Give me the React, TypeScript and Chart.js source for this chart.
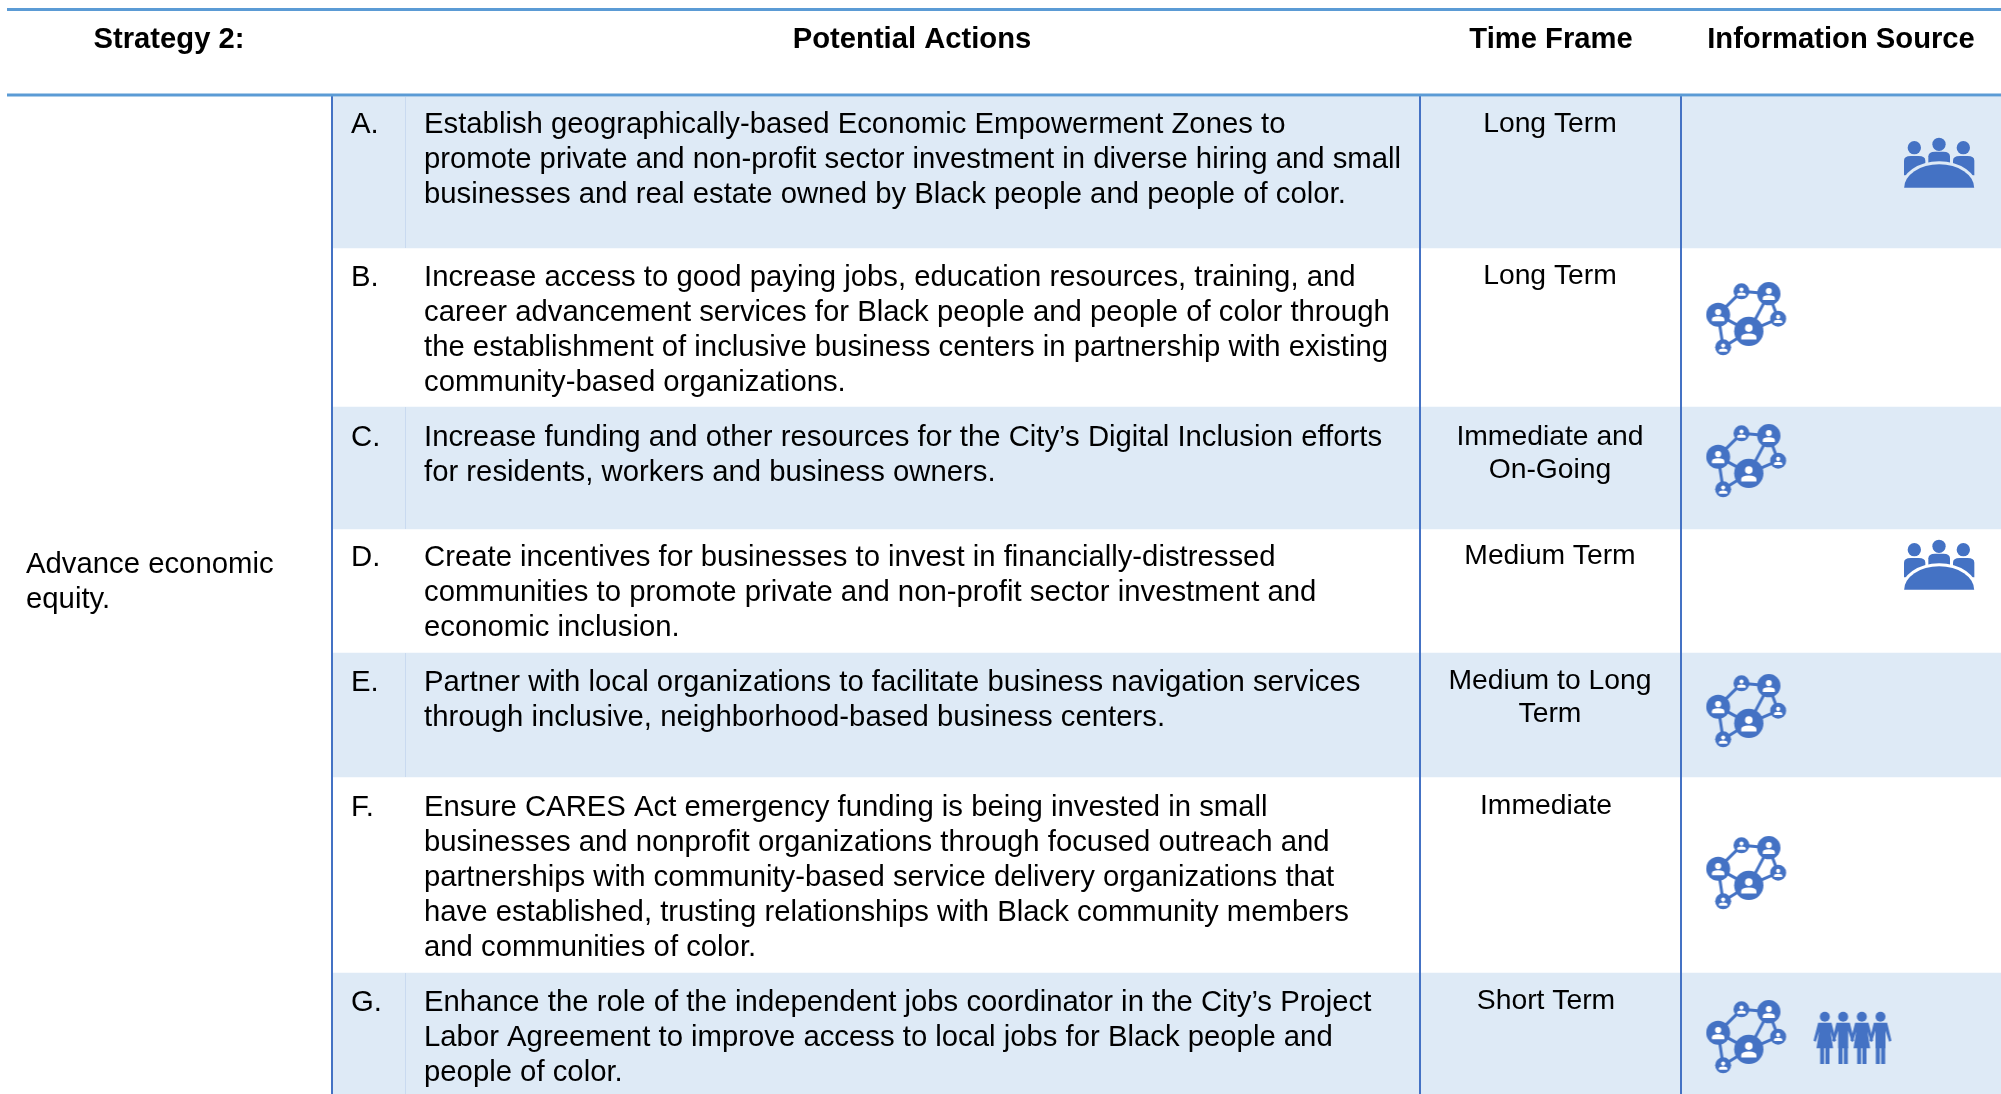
import React, { useEffect, useRef } from "react";
import { Chart, registerables } from "chart.js";

Chart.register(...registerables);

const W = 2001;
const H = 1094;

// ---------- content ----------
const headers = ["Strategy 2:", "Potential Actions", "Time Frame", "Information Source"];
const strategyLines = ["Advance economic", "equity."];
const rowLetters = ["A.", "B.", "C.", "D.", "E.", "F.", "G."];
const actionLines = [
  ["Establish geographically-based Economic Empowerment Zones to", "promote private and non-profit sector investment in diverse hiring and small", "businesses and real estate owned by Black people and people of color."],
  ["Increase access to good paying jobs, education resources, training, and", "career advancement services for Black people and people of color through", "the establishment of inclusive business centers in partnership with existing", "community-based organizations."],
  ["Increase funding and other resources for the City\u2019s Digital Inclusion efforts", "for residents, workers and business owners."],
  ["Create incentives for businesses to invest in financially-distressed", "communities to promote private and non-profit sector investment and", "economic inclusion."],
  ["Partner with local organizations to facilitate business navigation services", "through inclusive, neighborhood-based business centers."],
  ["Ensure CARES Act emergency funding is being invested in small", "businesses and nonprofit organizations through focused outreach and", "partnerships with community-based service delivery organizations that", "have established, trusting relationships with Black community members", "and communities of color."],
  ["Enhance the role of the independent jobs coordinator in the City\u2019s Project", "Labor Agreement to improve access to local jobs for Black people and", "people of color."],
];
const timeFrames = [
  ["Long Term"],
  ["Long Term"],
  ["Immediate and", "On-Going"],
  ["Medium Term"],
  ["Medium to Long", "Term"],
  ["Immediate"],
  ["Short Term"],
];

// ---------- table geometry (in the axes' units) ----------
const rowEdges = [97, 248, 407, 529, 653, 777, 973, 1094];
const shadedRows = [0, 2, 4, 6];
const rowBaselines = [133.3, 286, 445.5, 566, 691, 815.5, 1011];
const timeBaselines = [132, 284, 445, 564, 689, 814, 1009];
const timeCenters = [1550, 1550, 1550, 1550, 1550, 1546, 1546];
const networkCenters = [[1746.5, 319], [1746.5, 461], [1746.5, 711], [1746.5, 873], [1746.5, 1037]];
const crowdCenters = [[1939, 163], [1939, 565]];
const peopleCenters = [[1853.5, 1038]];
const headerRules = [9.5, 95];
const columnRules = [332, 1420, 1681];
const faintRule = 405.5;

const BLUE = "#4472C4";
const SHADE = "#DEEAF6";
const FONT = '"Liberation Sans", Arial, sans-serif';

// ---------- icons ----------
function iconCanvas(w: number, h: number, draw: (c: CanvasRenderingContext2D) => void) {
  const cv = document.createElement("canvas");
  cv.width = w;
  cv.height = h;
  const c = cv.getContext("2d")!;
  c.scale(1 / 3, 1 / 3);
  c.fillStyle = BLUE;
  c.strokeStyle = BLUE;
  draw(c);
  return cv;
}

function makeNetwork() {
  return iconCanvas(82, 74, (c) => {
    c.translate(-77, -37);
    const n = [[115, 135, 36], [185, 65, 24], [267, 72, 35], [295, 147, 24], [207, 185, 44], [130, 233, 24]];
    const links = [[0, 1], [1, 2], [2, 4], [2, 3], [3, 4], [4, 0], [0, 5], [5, 4]];
    c.lineWidth = 9;
    links.forEach(([a, b]) => {
      c.beginPath();
      c.moveTo(n[a][0], n[a][1]);
      c.lineTo(n[b][0], n[b][1]);
      c.stroke();
    });
    n.forEach(([x, y, r]) => {
      c.fillStyle = BLUE;
      c.beginPath();
      c.arc(x, y, r, 0, Math.PI * 2);
      c.fill();
      c.fillStyle = "#fff";
      c.beginPath();
      c.arc(x, y - r * 0.22, r * 0.26, 0, Math.PI * 2);
      c.fill();
      c.beginPath();
      c.moveTo(x - r * 0.52, y + r * 0.55);
      c.lineTo(x - r * 0.52, y + r * 0.38);
      c.quadraticCurveTo(x - r * 0.5, y + r * 0.14, x, y + r * 0.14);
      c.quadraticCurveTo(x + r * 0.5, y + r * 0.14, x + r * 0.52, y + r * 0.38);
      c.lineTo(x + r * 0.52, y + r * 0.55);
      c.closePath();
      c.fill();
    });
  });
}

function makeCrowd() {
  return iconCanvas(74, 54, (c) => {
    c.translate(-66, -50);
    [[103, 85], [177, 75], [250, 85]].forEach(([x, y]) => {
      c.beginPath();
      c.arc(x, y, 20, 0, Math.PI * 2);
      c.fill();
    });
    const body = (x0: number, x1: number, top: number, bot: number) => {
      c.beginPath();
      c.moveTo(x0, bot);
      c.lineTo(x0, top + 14);
      c.quadraticCurveTo(x0, top, x0 + 20, top);
      c.lineTo(x1 - 20, top);
      c.quadraticCurveTo(x1, top, x1, top + 14);
      c.lineTo(x1, bot);
      c.closePath();
      c.fill();
    };
    body(72, 136, 110, 168);
    body(145, 210, 97, 135);
    body(219, 283, 110, 168);
    const table = (grow: number) => {
      c.beginPath();
      c.ellipse(177.5, 205, 105 + grow, 70 + grow, 0, Math.PI, 0);
      c.closePath();
      c.fill();
    };
    c.globalCompositeOperation = "destination-out";
    table(9);
    c.globalCompositeOperation = "source-over";
    table(0);
  });
}

function makePeople() {
  return iconCanvas(82, 56, (c) => {
    c.translate(-400, -90);
    const figure = (x: number, woman: boolean) => {
      c.beginPath();
      c.arc(x, 110, 15, 0, Math.PI * 2);
      c.fill();
      c.beginPath();
      if (woman) {
        c.moveTo(x - 20, 128);
        c.lineTo(x + 20, 128);
        c.lineTo(x + 34, 182);
        c.lineTo(x + 27, 185);
        c.lineTo(x + 17, 155);
        c.lineTo(x + 25, 205);
        c.lineTo(x - 25, 205);
        c.lineTo(x - 17, 155);
        c.lineTo(x - 27, 185);
        c.lineTo(x - 34, 182);
      } else {
        c.moveTo(x - 20, 128);
        c.lineTo(x + 20, 128);
        c.lineTo(x + 33, 182);
        c.lineTo(x + 26, 185);
        c.lineTo(x + 15, 152);
        c.lineTo(x + 15, 205);
        c.lineTo(x - 15, 205);
        c.lineTo(x - 15, 152);
        c.lineTo(x - 26, 185);
        c.lineTo(x - 33, 182);
      }
      c.closePath();
      c.fill();
      c.fillRect(x - 14, 200, 12, 52);
      c.fillRect(x + 2, 200, 12, 52);
    };
    figure(437, true);
    figure(492, false);
    figure(548, true);
    figure(604, false);
  });
}

// ---------- text drawn through the same scales ----------
const tablePlugin = {
  id: "tableText",
  afterDatasetsDraw(chart: any) {
    const { ctx, scales } = chart;
    const px = (v: number) => scales.x.getPixelForValue(v);
    const py = (v: number) => scales.y.getPixelForValue(v);
    const put = (s: string, x: number, y: number, font: string, align: CanvasTextAlign) => {
      ctx.font = font;
      ctx.textAlign = align;
      ctx.fillText(s, px(x), py(y));
    };
    ctx.save();
    ctx.fillStyle = "#000";
    ctx.textBaseline = "alphabetic";
    const bold = `bold 29.2px ${FONT}`;
    const body = `29.3px ${FONT}`;
    const time = `28.3px ${FONT}`;
    put(headers[0], 169, 48, bold, "center");
    put(headers[1], 912, 48, bold, "center");
    put(headers[2], 1551, 48, bold, "center");
    put(headers[3], 1841, 48, bold, "center");
    strategyLines.forEach((s, i) => put(s, 26, 573 + i * 35, body, "left"));
    rowLetters.forEach((s, i) => put(s, 351, rowBaselines[i], body, "left"));
    actionLines.forEach((lines, i) =>
      lines.forEach((s, j) => put(s, 424, rowBaselines[i] + j * 35, body, "left"))
    );
    timeFrames.forEach((lines, i) =>
      lines.forEach((s, j) => put(s, timeCenters[i], timeBaselines[i] + j * 33, time, "center"))
    );
    ctx.restore();
  },
};

const rule = (x0: number, y0: number, x1: number, y1: number, color: string, w: number, order: number) => ({
  type: "scatter",
  data: [{ x: x0, y: y0 }, { x: x1, y: y1 }],
  showLine: true,
  borderColor: color,
  borderWidth: w,
  pointRadius: 0,
  order,
  clip: false,
});

export default function App() {
  const ref = useRef<HTMLCanvasElement>(null);
  useEffect(() => {
    const network = makeNetwork();
    const crowd = makeCrowd();
    const people = makePeople();
    const icons = [
      ...networkCenters.map(([x, y]) => ({ x, y, s: network })),
      ...crowdCenters.map(([x, y]) => ({ x, y, s: crowd })),
      ...peopleCenters.map(([x, y]) => ({ x, y, s: people })),
    ];
    const chart = new Chart(ref.current!, {
      type: "bar",
      data: {
        datasets: [
          {
            type: "bar",
            data: shadedRows.map((i) => ({ x: (332 + W) / 2, y: [rowEdges[i], rowEdges[i + 1]] })),
            backgroundColor: SHADE,
            borderWidth: 0,
            barThickness: W - 332,
            order: 5,
            grouped: false,
          },
          ...shadedRows.map((i) => rule(faintRule, rowEdges[i], faintRule, rowEdges[i + 1], "#C9DAF0", 1, 4)),
          ...columnRules.map((x) => rule(x, 95, x, H, BLUE, 2, 3)),
          ...headerRules.map((y) => rule(7, y, W, y, "#5B9BD5", 3, 2)),
          {
            type: "scatter",
            data: icons.map(({ x, y }) => ({ x, y })),
            pointStyle: icons.map((i) => i.s),
            pointRadius: 10,
            order: 1,
            clip: false,
          },
        ] as any,
      },
      options: {
        responsive: false,
        animation: false,
        devicePixelRatio: 1,
        layout: { padding: 0, autoPadding: false },
        events: [],
        plugins: { legend: { display: false }, tooltip: { enabled: false }, title: { display: false } },
        scales: {
          x: { type: "linear", min: 0, max: W, display: false, offset: false },
          y: { type: "linear", min: 0, max: H, reverse: true, display: false },
        },
      } as any,
      plugins: [tablePlugin],
    });
    return () => chart.destroy();
  }, []);
  return (
    <div style={{ position: "fixed", left: 0, top: 0, width: W, height: H, background: "#fff" }}>
      <canvas ref={ref} width={W} height={H} style={{ display: "block" }} />
    </div>
  );
}
